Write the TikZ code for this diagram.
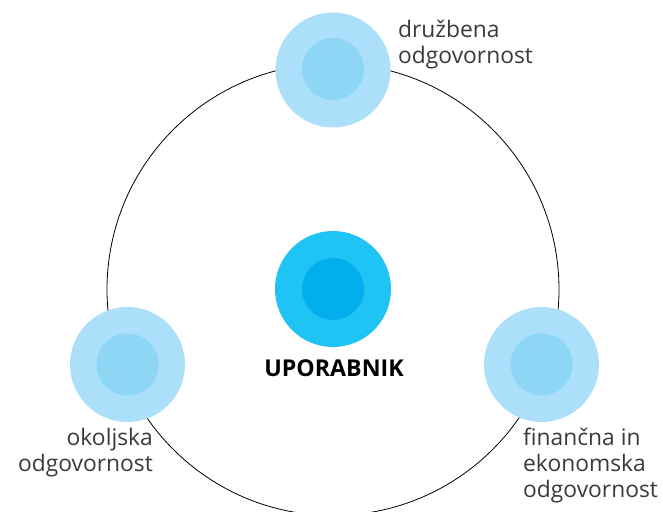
\documentclass[tikz,border=0pt]{standalone}
\usepackage{fontspec}
\setmainfont{Open Sans}
\definecolor{lightout}{HTML}{ABDFFA}
\definecolor{lightin}{HTML}{8ED6F6}
\definecolor{mainout}{HTML}{20C4F4}
\definecolor{mainin}{HTML}{02AEEE}
\definecolor{txt}{HTML}{3A3A3A}
\begin{document}
\begin{tikzpicture}[x=1pt,y=-1pt,
  outer/.style={circle,fill=lightout,minimum size=115pt,inner sep=0pt},
  inner/.style={circle,fill=lightin,minimum size=62pt,inner sep=0pt},
  label/.style={text=txt,font=\fontsize{22.8}{26}\selectfont,inner sep=0pt}]
\useasboundingbox (0,0) rectangle (663,511);
\node[circle,draw=black,line width=0.8pt,minimum size=452pt,inner sep=0pt] (ring) at (333,289.5) {};
\node[outer] (top) at (333,70) {};
\node[inner] (topin) at (333,69) {};
\node[outer] (left) at (127.5,364.5) {};
\node[inner] (leftin) at (127.5,364.5) {};
\node[outer] (right) at (541.5,364.5) {};
\node[inner] (rightin) at (541.5,364.5) {};
\node[circle,fill=mainout,minimum size=116pt,inner sep=0pt] (center) at (333,289) {};
\node[circle,fill=mainin,minimum size=62pt,inner sep=0pt] (centerin) at (333,289) {};
\node[text=black,font=\fontsize{23.2}{26}\selectfont\bfseries,inner sep=0pt,anchor=base] (user) at (334,376) {UPORABNIK};
\node[label,align=left,anchor=north west] (ltop) at (398,20) {družbena\\odgovornost};
\node[label,align=right,anchor=north east] (lleft) at (153,428) {okoljska\\odgovornost};
\node[label,align=left,anchor=north west] (lright) at (523,428) {finančna in\\ekonomska\\odgovornost};
\end{tikzpicture}
\end{document}
